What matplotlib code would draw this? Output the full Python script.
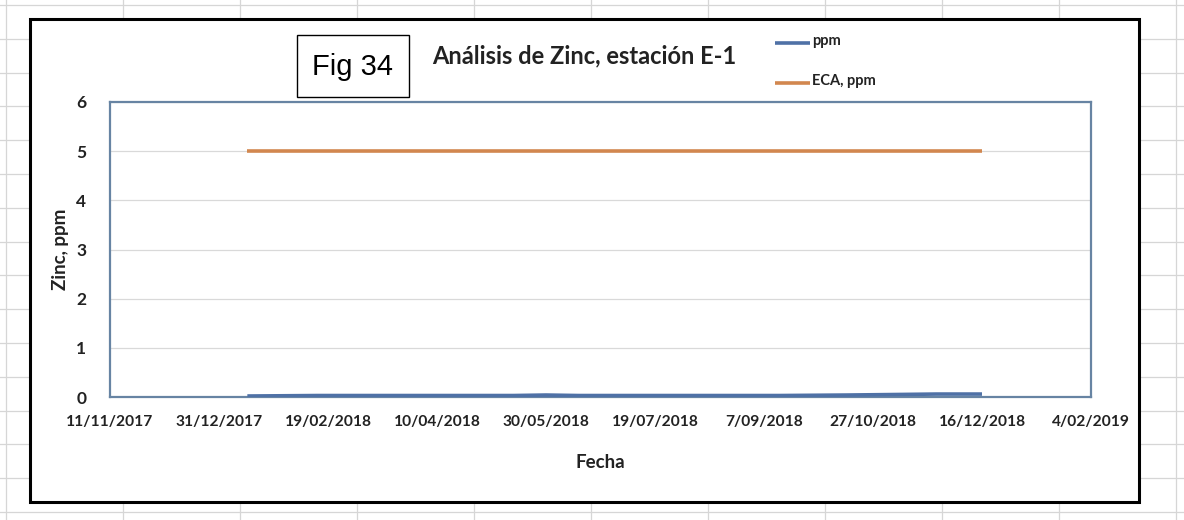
import matplotlib
matplotlib.use("Agg")
import matplotlib.pyplot as plt
import matplotlib.dates as mdates
from matplotlib.patches import Rectangle
from matplotlib.ticker import FuncFormatter, MultipleLocator
import numpy as np
import datetime as dt

# ---- data ----
sample_dates = ['2018-01-13', '2018-02-14', '2018-03-15', '2018-04-14', '2018-05-15',
                '2018-05-30', '2018-06-14', '2018-07-14', '2018-08-15', '2018-09-14',
                '2018-10-15', '2018-11-05', '2018-11-25', '2018-12-16']
zinc_ppm = [0.02, 0.03, 0.03, 0.03, 0.03, 0.04, 0.03, 0.03, 0.03, 0.03,
            0.04, 0.05, 0.06, 0.06]
eca_ppm = [5, 5, 5, 5, 5, 5, 5, 5, 5, 5, 5, 5, 5, 5]
series_names = ['ppm', 'ECA, ppm']
x_start = '2017-11-11'
x_end = '2019-02-04'
tick_step_days = 50
title = 'Análisis de Zinc, estación E-1'
fig_label = 'Fig 34'

W, H = 1184, 520
FONT = ['Lato', 'DejaVu Sans']
fig = plt.figure(figsize=(W / 100, H / 100), dpi=100)

# spreadsheet background
bg = fig.add_axes([0, 0, 1, 1])
bg.set_xlim(0, W)
bg.set_ylim(H, 0)
bg.axis('off')
for xv in np.arange(6, W, 117):
    bg.plot([xv, xv], [0, H], color='#d6d6d6', lw=0.9, zorder=0)
for yv in np.arange(5, H, 33.8):
    bg.plot([0, W], [yv, yv], color='#d6d6d6', lw=0.9, zorder=0)

# chart box
bg.add_patch(Rectangle((32, 21), 1109, 483, facecolor='#cccccc', edgecolor='none', zorder=1))
bg.add_patch(Rectangle((30, 19), 1109, 483, facecolor='white', edgecolor='black', lw=2.2, zorder=2))
# Fig label box
bg.add_patch(Rectangle((297, 35), 112, 62, facecolor='white', edgecolor='black', lw=1.0, zorder=3))
bg.text(353, 67, fig_label, ha='center', va='center', fontsize=21,
        family=['Liberation Sans', 'DejaVu Sans'], color='black', zorder=4)
bg.text(584, 56, title, ha='center', va='center', fontsize=17, fontweight='bold',
        family=FONT, color='#222222', zorder=4)

# main axes
L, R, T, B = 110, 1091, 102, 397
ax = fig.add_axes([L / W, (H - B) / H, (R - L) / W, (B - T) / H])
ax.set_zorder(5)
ax.patch.set_facecolor('white')

d = [dt.datetime.strptime(s, '%Y-%m-%d') for s in sample_dates]
l1, = ax.plot(d, zinc_ppm, color='#4f71a6', lw=2.6, solid_capstyle='butt', zorder=3)
l2, = ax.plot(d, eca_ppm, color='#d2874f', lw=2.6, solid_capstyle='butt', zorder=3)

x0 = dt.datetime.strptime(x_start, '%Y-%m-%d')
x1 = dt.datetime.strptime(x_end, '%Y-%m-%d')
ax.set_xlim(x0, x1)
ax.set_ylim(0, 6)
ticks = []
t = x0
while t <= x1:
    ticks.append(t)
    t += dt.timedelta(days=tick_step_days)
ax.set_xticks(ticks)
ax.xaxis.set_major_formatter(FuncFormatter(
    lambda v, p: (lambda q: f"{q.day}/{q.month:02d}/{q.year}")(mdates.num2date(v))))
ax.yaxis.set_major_locator(MultipleLocator(1))
ax.grid(axis='y', color='#d9d9d9', lw=0.9, zorder=0)
ax.tick_params(length=0, colors='#222222')
ax.tick_params(axis='x', pad=13, labelsize=11.2)
ax.tick_params(axis='y', pad=17, labelsize=12.5)
for lab in ax.get_xticklabels() + ax.get_yticklabels():
    lab.set_fontweight('bold')
    lab.set_family(FONT)
for s in ax.spines.values():
    s.set_color('#6784a3')
    s.set_linewidth(1.6)

ax.set_xlabel('Fecha', fontsize=13.5, fontweight='bold', family=FONT, labelpad=18, color='#222222')
ax.set_ylabel('Zinc, ppm', fontsize=13.5, fontweight='bold', family=FONT, labelpad=5, color='#222222')

leg = fig.legend([l1, l2], series_names, loc='upper left',
                 bbox_to_anchor=(762 / W, 1 - 24 / H), frameon=False,
                 prop={'family': FONT, 'weight': 'bold', 'size': 10.5},
                 handlelength=2.4, handletextpad=0.15, labelspacing=1.75)
for tx in leg.get_texts():
    tx.set_color('#222222')
    tx.set_va('bottom')

fig.savefig('out.png', dpi=100)
